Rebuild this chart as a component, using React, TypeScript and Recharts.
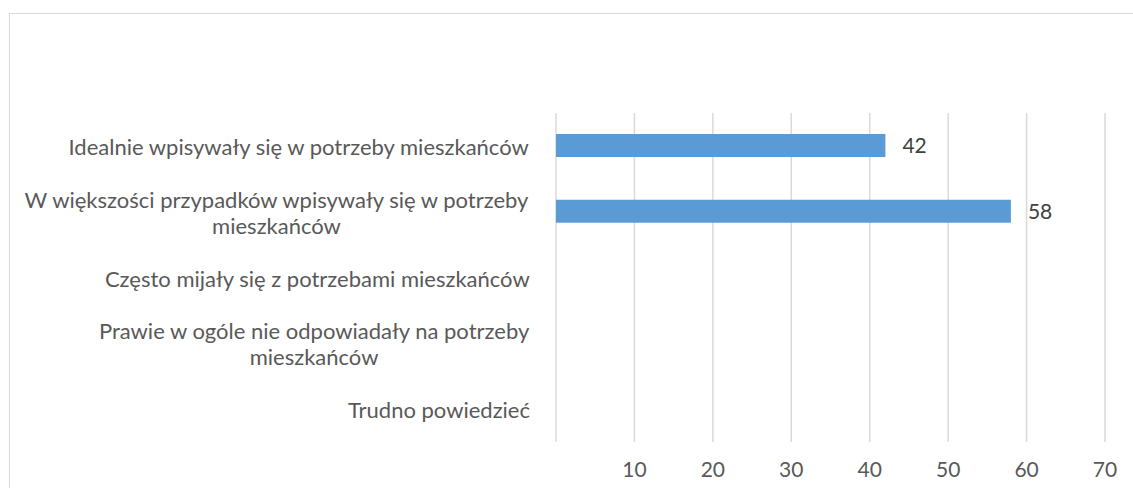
import React from 'react';
import { BarChart, Bar, XAxis, YAxis, CartesianGrid, LabelList } from 'recharts';

const categories = [
  'Idealnie wpisywały się w potrzeby mieszkańców',
  'W większości przypadków wpisywały się w potrzeby\nmieszkańców',
  'Często mijały się z potrzebami mieszkańców',
  'Prawie w ogóle nie odpowiadały na potrzeby\nmieszkańców',
  'Trudno powiedzieć',
];
const values = [42, 58, null, null, null];
const xTicks = [0, 10, 20, 30, 40, 50, 60, 70];

const data = categories.map((name, i) => ({ name, value: values[i] }));

const FONT_SIZE = 22;
const FONT = `${FONT_SIZE}px Lato`;
const TEXT_COLOR = '#595959';

let ctx: CanvasRenderingContext2D | null = null;
const measure = (s: string) => {
  if (!ctx) ctx = document.createElement('canvas').getContext('2d');
  if (!ctx) return s.length * 10;
  ctx.font = FONT;
  return ctx.measureText(s).width;
};

const CategoryTick: React.FC<any> = ({ y, payload }) => {
  const lines: string[] = String(payload.value).split('\n');
  const widest = Math.max(...lines.map(measure));
  const right = 530;
  const cx = right - widest / 2;
  const lh = 26;
  const startY = y - ((lines.length - 1) * lh) / 2;
  return (
    <text
      textAnchor="middle"
      fill={TEXT_COLOR}
      fontSize={FONT_SIZE}
      fontFamily="Lato"
      dominantBaseline="central"
    >
      {lines.map((l, i) => (
        <tspan key={i} x={cx} y={startY + i * lh}>
          {l}
        </tspan>
      ))}
    </text>
  );
};

const App: React.FC = () => {
  return (
    <div style={{ position: 'absolute', left: 0, top: 0, width: 1133, height: 488, overflow: 'hidden', background: '#fff' }}>
      <div
        style={{
          position: 'absolute',
          left: 9,
          top: 13,
          width: 1150,
          height: 520,
          border: '1.5px solid #d9d9d9',
        }}
      />
      <div style={{ position: 'absolute', left: 0, top: 0 }}>
        <BarChart
          width={1133}
          height={488}
          data={data}
          layout="vertical"
          margin={{ top: 113, right: 28, left: 0, bottom: 16 }}
          barSize={23}
        >
          <CartesianGrid horizontal={false} stroke="#d9d9d9" strokeWidth={1.5} />
          <XAxis
            type="number"
            domain={[0, 70]}
            ticks={xTicks}
            interval={0}
            axisLine={false}
            tickLine={false}
            height={30}
            tickMargin={14}
            tick={{ fill: TEXT_COLOR, fontSize: 21, fontFamily: 'Lato' }}
            tickFormatter={(v: number) => (v === 0 ? '' : String(v))}
          />
          <YAxis
            type="category"
            dataKey="name"
            width={556}
            axisLine={false}
            tickLine={false}
            interval={0}
            tick={<CategoryTick />}
          />
          <Bar dataKey="value" fill="#5b9bd5" isAnimationActive={false}>
            <LabelList dataKey="value" position="right" offset={17} fill="#404040" fontSize={21} fontFamily="Lato" />
          </Bar>
        </BarChart>
      </div>
    </div>
  );
};

export default App;
